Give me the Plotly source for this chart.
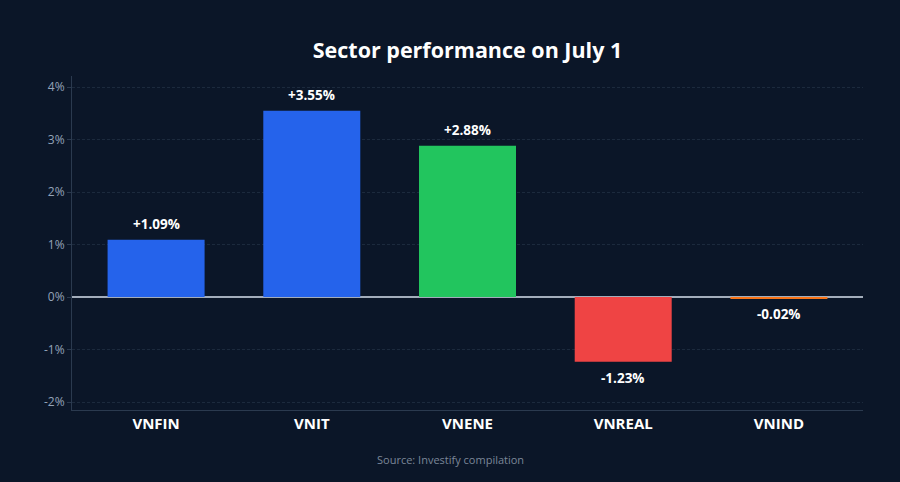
import plotly.graph_objects as go

categories = ["VNFIN", "VNIT", "VNENE", "VNREAL", "VNIND"]
values = [1.09, 3.55, 2.88, -1.23, -0.02]
labels = ["+1.09%", "+3.55%", "+2.88%", "-1.23%", "-0.02%"]
colors = ["#2563eb", "#2563eb", "#22c55e", "#ef4444", "#f97316"]
tick_vals = [-2, -1, 0, 1, 2, 3, 4]
tick_text = ["-2%", "-1%", "0%", "1%", "2%", "3%", "4%"]

bg = "#0b1628"
fig = go.Figure()
fig.add_trace(go.Bar(
    x=categories, y=values, marker=dict(color=colors, line=dict(width=0)),
    width=0.623, hoverinfo="skip",
))
annotations = []
for c, v, t in zip(categories, values, labels):
    annotations.append(dict(
        x=c, y=v, xref="x", yref="y", text=t, showarrow=False,
        yanchor="middle", yshift=16 if v > 0 else -16,
        font=dict(family="Open Sans", size=13.5, color="#ffffff", weight="bold"),
    ))
annotations.append(dict(text="Source: Investify compilation",
                        x=(450 - 72) / (863 - 72), xref="paper", xanchor="center",
                        y=-(459 - 410) / (410 - 76), yref="paper", yanchor="middle",
                        showarrow=False,
                        font=dict(family="Open Sans", size=11, color="#7b8798")))
fig.update_layout(
    width=900, height=482,
    paper_bgcolor=bg, plot_bgcolor=bg,
    margin=dict(l=72, r=37, t=76, b=72),
    title=dict(text="<b>Sector performance on July 1</b>", xref="paper", x=0.5,
               xanchor="center", y=0.895, yanchor="middle",
               font=dict(family="Open Sans", size=21.5, color="#ffffff")),
    showlegend=False,
    xaxis=dict(range=[-0.54, 4.54], showgrid=False, showline=True,
               linecolor="#2b3a4f", linewidth=1,
               tickfont=dict(family="Open Sans", size=15, color="#ffffff", weight="bold"),
               ticks="", zeroline=False),
    yaxis=dict(range=[-2.15, 4.21], tickvals=tick_vals, ticktext=tick_text,
               showgrid=True, gridcolor="#1c2a3d", griddash="3px,2px", gridwidth=1,
               showline=True, linecolor="#2b3a4f", linewidth=1,
               ticks="outside", ticklen=4, tickcolor="#2b3a4f",
               tickfont=dict(family="Open Sans", size=12, color="#94a3b8"),
               zeroline=True, zerolinecolor="#a3adbb", zerolinewidth=1.5),
    annotations=annotations,
)
fig.write_html("out.html")
